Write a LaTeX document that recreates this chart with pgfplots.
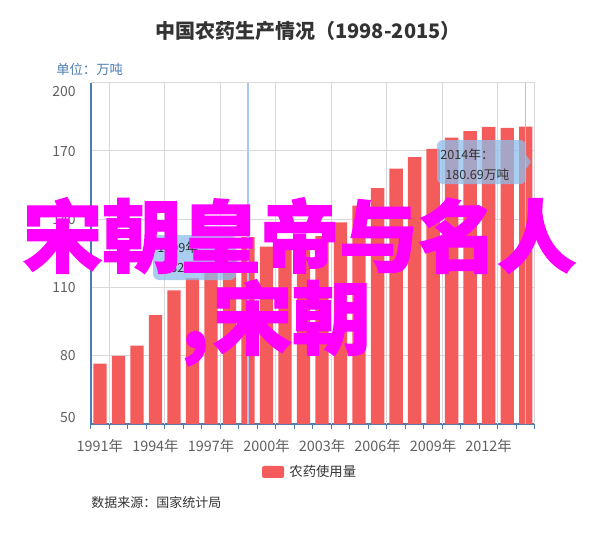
\documentclass[border=0pt]{standalone}
\usepackage{fontspec}
\setmainfont{Noto Sans CJK SC}
\newfontfamily\wmfont{Noto Sans CJK SC}[BoldFeatures={FakeBold=1.6}]
\usepackage{pgfplots}
\pgfplotsset{compat=1.18}

\definecolor{barred}{RGB}{244,91,91}
\definecolor{gridgray}{RGB}{216,216,216}
\definecolor{axisblue}{RGB}{74,126,176}
\definecolor{tickgray}{RGB}{96,96,96}
\definecolor{textdark}{RGB}{51,51,51}
\definecolor{unitblue}{RGB}{77,125,180}
\definecolor{crossblue}{RGB}{168,200,240}
\definecolor{tipblue}{RGB}{142,190,235}
\definecolor{wmark}{RGB}{255,0,255}

\begin{document}
\begin{tikzpicture}
% pixel frame: 600 x 533, y downwards
\begin{scope}[x=0.75pt,y=-0.75pt]
  \path[use as bounding box] (0,0) rectangle (600,533);
\end{scope}

\begin{axis}[
    at={(68.0pt,-62.0pt)}, anchor=north west,
    scale only axis,
    width=333.2pt, height=256pt,
    xmin=1990.5, xmax=2014.5,
    ymin=50, ymax=200,
    axis lines*=left,
    x axis line style={color=axisblue, line width=1.1pt},
    y axis line style={color=axisblue, line width=1.5pt},
    ytick={50,80,110,140,170,200},
    yticklabels={\smash{\raisebox{1.45pt}{50}},\smash{\raisebox{-3.8pt}{80}},
                 \smash{\raisebox{-3.8pt}{110}},\smash{\raisebox{-3.8pt}{140}},
                 \smash{\raisebox{-3.8pt}{170}},\smash{\raisebox{-10.55pt}{200}}},
    ytick style={draw=none},
    yticklabel style={anchor=east, inner sep=0pt, xshift=-6.75pt,
                      font=\fontsize{10.5}{12}\selectfont, text=tickgray},
    ymajorgrids=true,
    grid style={color=gridgray, line width=0.75pt},
    xtick={1991,1994,1997,2000,2003,2006,2009,2012},
    xticklabels={1991年,1994年,1997年,2000年,2003年,2006年,2009年,2012年},
    major x tick style={draw=none},
    minor xtick={1990.5,1991.5,...,2014.5},
    minor x tick style={color=axisblue, line width=0.75pt},
    minor tick length=3.5pt,
    tick align=outside,
    xticklabel style={anchor=center, inner sep=0pt, yshift=-12.5pt,
                      font=\fontsize{10.8}{12}\selectfont, text=tickgray},
    extra x ticks={1991.5,1994.5,1997.5,2000.5,2003.5,2006.5,2009.5,2012.5,2014.5},
    extra x tick labels={},
    extra x tick style={grid=major, major tick length=0pt},
    legend style={at={(axis description cs:0.4947,-0.1406)}, anchor=center,
                  draw=none, fill=none, column sep=2pt,
                  font=\fontsize{10}{12}\selectfont, text=textdark},
    legend image code/.code={
        \path[fill=barred, rounded corners=1.5pt] (0pt,-4.5pt) rectangle (16.5pt,4.5pt);},
]
\addplot[ybar, bar width=0.72, fill=barred, draw=none] coordinates {
    (1991,76.53) (1992,79.99) (1993,84.48) (1994,97.90)
    (1995,108.70) (1996,114.08) (1997,119.55) (1998,123.17)
    (1999,132.16) (2000,127.95) (2001,127.48) (2002,131.12)
    (2003,132.52) (2004,138.60) (2005,145.99) (2006,153.71)
    (2007,162.28) (2008,167.23) (2009,170.90) (2010,175.82)
    (2011,178.70) (2012,180.61) (2013,180.19) (2014,180.69)
};
\addlegendentry{农药使用量}
% crosshairs of the two tooltips
\draw[crossblue, line width=1.1pt] (axis cs:1999,50) -- (axis cs:1999,200);
\draw[crossblue, line width=1.1pt] (axis cs:2014,50) -- (axis cs:2014,200);
\end{axis}

\begin{scope}[x=0.75pt,y=-0.75pt]
  % title, unit, source
  \node[text=textdark, inner sep=0pt, font=\fontsize{15}{18}\selectfont\bfseries]
      at (308,31) {中国农药生产情况（1998-2015）};
  \node[anchor=west, text=unitblue, inner sep=0pt, font=\fontsize{10}{12}\selectfont]
      at (56,69) {单位：万吨};
  \node[anchor=west, text=textdark, inner sep=0pt, font=\fontsize{9.75}{12}\selectfont]
      at (91,503) {数据来源：国家统计局};

  % tooltips
  \path[fill=tipblue, fill opacity=0.75, rounded corners=4.5pt]
      (437,140) rectangle (526,184);
  \path[fill=tipblue, fill opacity=0.75] (526,155) -- (531,162) -- (526,169) -- cycle;
  \node[anchor=west, inner sep=0pt, text=textdark, font=\fontsize{9.5}{11}\selectfont]
      at (440,155) {2014年：};
  \node[anchor=west, inner sep=0pt, text=textdark, font=\fontsize{9.5}{11}\selectfont]
      at (445,175) {180.69万吨};

  \path[fill=tipblue, fill opacity=0.75, rounded corners=4.5pt]
      (153,235) rectangle (236,280);
  \path[fill=tipblue, fill opacity=0.75] (236,250) -- (241,257) -- (236,264) -- cycle;
  \node[anchor=west, inner sep=0pt, text=textdark, font=\fontsize{9.5}{11}\selectfont]
      at (157,248) {1999年：};
  \node[anchor=west, inner sep=0pt, text=textdark, font=\fontsize{9.5}{11}\selectfont]
      at (163,268) {132.16万吨};

  % overlaid watermark text
  \node[anchor=base west, inner sep=0pt, text=wmark,
        font=\fontsize{59.25}{60}\selectfont\wmfont\bfseries]
      at (23,266) {宋朝皇帝与名人};
  \node[anchor=base west, inner sep=0pt, text=wmark,
        font=\fontsize{59.25}{60}\selectfont\wmfont\bfseries]
      at (181,348) {,\kern3pt宋朝};
\end{scope}
\end{tikzpicture}
\end{document}
